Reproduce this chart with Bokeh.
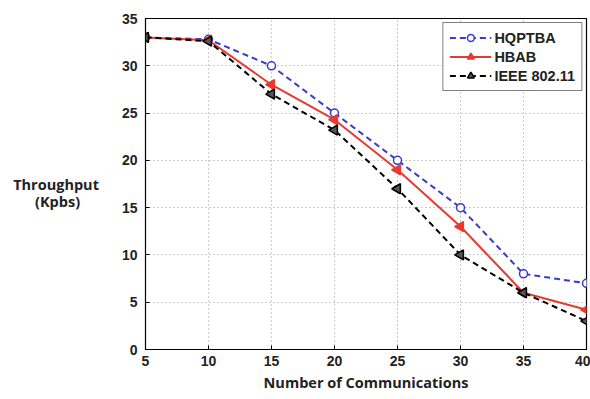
import math
from bokeh.plotting import figure
from bokeh.models import Legend, LegendItem, SingleIntervalTicker, Range1d
from bokeh.embed import file_html
from bokeh.resources import INLINE

x_comms = [5, 10, 15, 20, 25, 30, 35, 40]
hqptba = [33.0, 32.8, 30.0, 25.0, 20.0, 15.0, 8.0, 7.0]
hbab = [33.0, 32.7, 28.0, 24.3, 19.0, 13.0, 6.0, 4.2]
ieee = [33.0, 32.6, 27.0, 23.2, 17.0, 10.0, 6.0, 3.0]
series_names = ["HQPTBA", "HBAB", "IEEE 802.11"]
y_label_lines = ["Throughput", "(Kpbs)"]

NBSP = "\u00a0"

p = figure(width=590, height=399, output_backend="svg", toolbar_location=None,
           x_range=Range1d(5, 40), y_range=Range1d(0, 35),
           min_border_left=145, min_border_right=4, min_border_top=18, min_border_bottom=50)
p.outline_line_color = "black"
p.outline_line_width = 1.2
p.background_fill_color = "white"
p.border_fill_color = "white"

for ax in (p.xaxis[0], p.yaxis[0]):
    ax.ticker = SingleIntervalTicker(interval=5)
    ax.major_tick_in = 4
    ax.major_tick_out = 0
    ax.minor_tick_line_color = None
    ax.axis_line_color = "black"
    ax.major_label_text_font = "Liberation Sans"
    ax.major_label_text_font_style = "bold"
    ax.major_label_text_font_size = "14px"
    ax.major_label_text_color = "#222222"
    ax.axis_label_text_font = "Open Sans"
    ax.axis_label_text_font_style = "bold"
    ax.axis_label_text_font_size = "14.5px"
    ax.axis_label_text_color = "#222222"

p.xaxis.axis_label = "Number of Communications"
p.xaxis.major_label_standoff = 2
p.xaxis.axis_label_standoff = 4
p.yaxis.major_label_standoff = 4

# two-line horizontal y label; the axis label is right-aligned, so the short
# line is padded with non-breaking spaces to look centred
p.yaxis.axis_label = NBSP + "\n" + y_label_lines[0] + "\n" + y_label_lines[1] + NBSP * 5
p.yaxis.axis_label_orientation = "horizontal"
p.yaxis.axis_label_standoff = 20
p.yaxis.axis_label_text_line_height = 0.9

for g in (p.xgrid, p.ygrid):
    g.grid_line_color = "#999999"
    g.grid_line_dash = "1 3"
    g.grid_line_width = 1

r1 = p.line(x_comms, hqptba, line_color="#3a3ad0", line_width=2, line_dash="6 4")
m1 = p.scatter(x_comms, hqptba, marker="circle", size=8, line_color="#3a3ad0",
               fill_color="white", line_width=1.5)
r2 = p.line(x_comms, hbab, line_color="#e83a30", line_width=2)
m2 = p.scatter(x_comms, hbab, marker="triangle", angle=math.pi / 2, size=10,
               line_color="#e83a30", fill_color="#e83a30", line_width=1.5)
r3 = p.line(x_comms, ieee, line_color="black", line_width=2, line_dash="6 4")
m3 = p.scatter(x_comms, ieee, marker="triangle", angle=math.pi / 2, size=10,
               line_color="black", fill_color="#555555", line_width=1.5)

legend = Legend(items=[LegendItem(label=series_names[0], renderers=[r1, m1]),
                       LegendItem(label=series_names[1], renderers=[r2, m2]),
                       LegendItem(label=series_names[2], renderers=[r3, m3])],
                location="top_right")
legend.margin = 4
legend.padding = 6
legend.spacing = 2
legend.label_standoff = 3
legend.glyph_width = 42
legend.glyph_height = 17
legend.label_text_font = "Liberation Sans"
legend.label_text_font_style = "bold"
legend.label_text_font_size = "14.5px"
legend.label_text_color = "#222222"
legend.border_line_color = "black"
legend.border_line_width = 1
legend.background_fill_alpha = 1
p.add_layout(legend)

open("out.html", "w").write(file_html(p, INLINE))
